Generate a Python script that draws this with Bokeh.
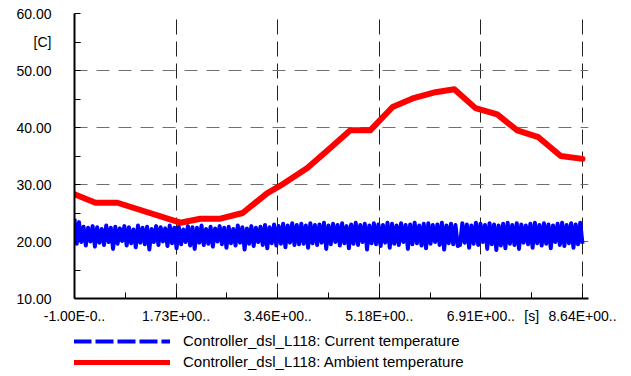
import numpy as np
from bokeh.plotting import figure
from bokeh.layouts import column
from bokeh.models import FixedTicker, Legend, LegendItem, Range1d
from bokeh.embed import file_html
from bokeh.resources import INLINE

# ---- data ----
x_ticks = [0.0, 1.728, 3.456, 5.184, 6.912, 8.64]
x_tick_labels = ["-1.00E-0..", "1.73E+00..", "3.46E+00..", "5.18E+00..", "6.91E+00..", "8.64E+00.."]
x_unit_pos = 7.776
x_unit = "[s]"
y_ticks = [10, 20, 30, 40, 50, 60]
y_tick_labels = ["10.00", "20.00", "30.00", "40.00", "50.00", "60.00"]
y_unit_pos = 55
y_unit = "[C]"

ambient_t = [0.0, 0.357, 0.731, 1.80, 2.14, 2.48, 2.86, 3.28, 3.50, 3.96, 4.35, 4.69, 5.03,
             5.41, 5.75, 6.14, 6.46, 6.82, 7.19, 7.53, 7.89, 8.27, 8.64]
ambient_temp = [28.3, 26.8, 26.8, 23.3, 24.0, 24.0, 25.0, 28.5, 29.8, 32.9, 36.4, 39.5, 39.5,
                43.6, 45.1, 46.2, 46.7, 43.4, 42.3, 39.5, 38.3, 35.0, 34.5]

current_temp = [
    24.0, 19.6, 23.4, 19.9, 22.6, 19.3, 22.4, 20.0, 22.7, 19.1,
    22.5, 19.8, 22.2, 19.4, 22.8, 19.9, 22.4, 18.7, 22.6, 19.6,
    22.3, 20.1, 22.7, 19.3, 22.5, 19.7, 22.1, 19.0, 22.8, 19.8,
    22.4, 19.5, 22.6, 18.6, 22.2, 19.9, 22.7, 19.4, 22.5, 20.0,
    22.3, 19.2, 22.8, 19.7, 22.4, 18.8, 22.6, 19.5, 22.1, 19.9,
    22.7, 19.3, 22.5, 18.7, 22.4, 19.8, 22.8, 19.4, 22.2, 19.6,
    22.6, 19.1, 22.3, 20.0, 22.7, 19.5, 22.4, 18.9, 22.6, 19.7,
    22.2, 19.3, 22.8, 19.8, 22.5, 18.6, 22.3, 19.6, 22.7, 19.2,
    22.4, 19.9, 22.6, 19.4, 22.9, 18.8, 22.5, 19.7, 23.0, 19.3,
    22.7, 19.6, 23.1, 19.0, 22.8, 19.8, 23.2, 19.4, 22.9, 19.5,
    23.1, 19.6, 22.8, 18.9, 23.2, 19.7, 22.9, 19.4, 23.0, 19.8,
    23.3, 18.7, 22.8, 19.5, 23.1, 19.9, 22.9, 19.3, 23.2, 19.7,
    22.7, 18.8, 23.0, 19.6, 23.3, 19.4, 22.9, 19.9, 23.1, 18.6,
    22.8, 19.7, 23.2, 19.5, 23.0, 19.2, 22.9, 19.8, 23.3, 18.9,
    23.1, 19.6, 22.8, 19.4, 23.2, 19.9, 22.9, 18.7, 23.0, 19.5,
    23.3, 19.7, 22.8, 19.3, 23.1, 18.8, 23.2, 19.6, 22.9, 19.9,
    23.0, 19.4, 23.3, 18.6, 22.8, 19.7, 23.1, 19.5, 22.9, 19.2,
    19.4,
    23.2, 19.8, 23.0, 18.9, 22.8, 19.6, 23.3, 19.4, 23.1, 19.9,
    22.9, 18.7, 23.2, 19.5,
    23.0, 18.5, 22.8, 19.3, 23.1, 18.8, 23.3, 19.6, 22.9, 19.4,
    23.2, 18.7, 23.0, 19.8, 22.8, 19.5, 23.1, 18.9, 23.3, 19.7,
    22.9, 19.3, 23.2, 19.6, 23.0, 18.8, 22.8, 19.9, 23.1, 19.4,
    23.3, 19.2, 22.9, 19.7, 23.2, 18.9, 23.0, 19.5, 23.3, 19.6,
]
current_t = [float(v) for v in np.linspace(0.0, 8.64, len(current_temp))]

legend_labels = ["Controller_dsl_L118: Current temperature",
                 "Controller_dsl_L118: Ambient temperature"]

FONT = "Liberation Sans"

fig = figure(width=631, height=326, output_backend="svg", toolbar_location=None,
             x_range=Range1d(0.0, 8.742), y_range=Range1d(10, 60),
             min_border_left=74, min_border_right=43, min_border_top=13, min_border_bottom=27)
fig.outline_line_color = None

# axes
x_minor = [(a + b) / 2 for a, b in zip(x_ticks[:-1], x_ticks[1:])]
fig.xaxis.ticker = FixedTicker(ticks=x_ticks + [x_unit_pos], minor_ticks=x_minor)
x_over = dict(zip(x_ticks, x_tick_labels))
x_over[x_unit_pos] = x_unit
fig.xaxis.major_label_overrides = x_over
fig.yaxis.ticker = FixedTicker(ticks=y_ticks + [y_unit_pos], minor_ticks=[v + 5 for v in y_ticks[:-1]])
y_over = dict(zip(y_ticks, y_tick_labels))
y_over[y_unit_pos] = y_unit
fig.yaxis.major_label_overrides = y_over
for ax in (fig.xaxis[0], fig.yaxis[0]):
    ax.axis_line_width = 2
    ax.axis_line_color = "black"
    ax.major_tick_in = 6
    ax.major_tick_out = 0
    ax.minor_tick_in = 6
    ax.minor_tick_out = 0
    ax.major_tick_line_color = "black"
    ax.minor_tick_line_color = "black"
    ax.major_tick_line_width = 1
    ax.minor_tick_line_width = 1
    ax.major_label_text_font = FONT
    ax.major_label_text_font_size = "14px"
    ax.major_label_text_color = "black"
fig.yaxis.major_label_standoff = 23
fig.xaxis.major_label_standoff = 9

# grids
fig.xgrid.ticker = FixedTicker(ticks=x_ticks[1:])
fig.ygrid.ticker = FixedTicker(ticks=y_ticks[1:])
fig.xgrid.grid_line_color = "#222222"
fig.xgrid.grid_line_dash = "15 7"
fig.ygrid.grid_line_color = "#707070"
fig.ygrid.grid_line_dash = "13 9"

# series
fig.line(current_t, current_temp, line_color="#0000FF", line_width=4, line_join="round")
fig.line(ambient_t, ambient_temp, line_color="#FF0000", line_width=6, line_join="round", line_cap="round")

# legend in a strip below (same series, ranges placed so only the legend shows)
lf = figure(width=631, height=50, output_backend="svg", toolbar_location=None,
            x_range=Range1d(-200, -199), y_range=Range1d(-200, -199),
            min_border=0, min_border_left=0, min_border_right=0, min_border_top=0, min_border_bottom=0)
lf.axis.visible = False
lf.grid.visible = False
lf.outline_line_color = None
leg_cur = lf.line(current_t, current_temp, line_color="#0000FF", line_width=4, line_dash="18 4")
leg_amb = lf.line(ambient_t, ambient_temp, line_color="#FF0000", line_width=5)
legend = Legend(items=[LegendItem(label=legend_labels[0], renderers=[leg_cur]),
                       LegendItem(label=legend_labels[1], renderers=[leg_amb])],
                location=(-1, 6), orientation="vertical")
legend.border_line_color = None
legend.background_fill_alpha = 0
legend.margin = 0
legend.padding = 0
legend.spacing = 4
legend.glyph_width = 97
legend.glyph_height = 16
legend.label_height = 16
legend.label_standoff = 13
legend.label_text_font = FONT
legend.label_text_font_size = "15px"
legend.label_text_color = "black"
lf.add_layout(legend, "center")

p = column(fig, lf, spacing=0)

open("out.html", "w").write(file_html(p, INLINE))
